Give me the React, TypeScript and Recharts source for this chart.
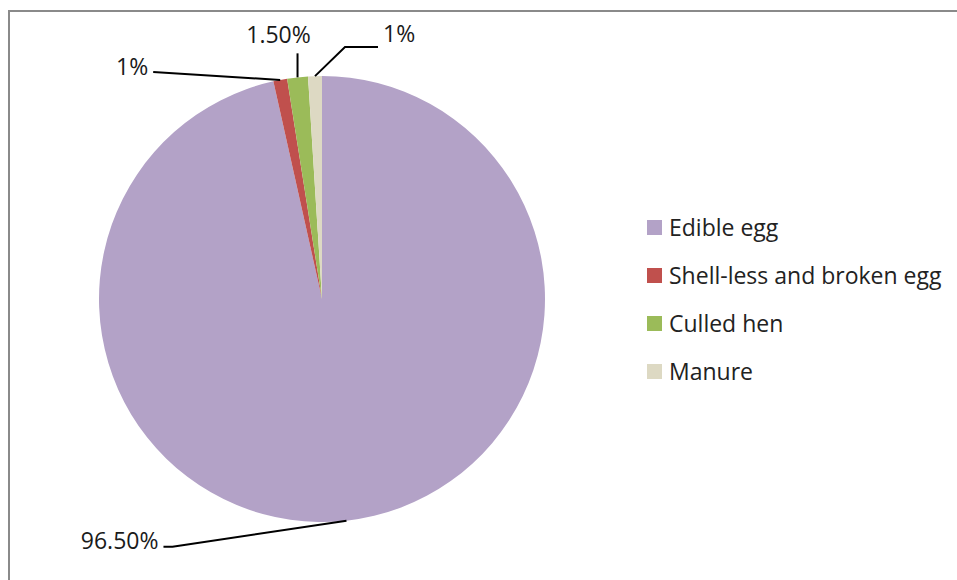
import { PieChart, Pie, Cell, Legend } from 'recharts'

// shares of layer farm output (%)
const categories = ['Edible egg', 'Shell-less and broken egg', 'Culled hen', 'Manure']
const shares = [96.5, 1, 1.5, 1]
const colors = ['#B3A2C7', '#C0504D', '#9BBB59', '#DDD9C3']

const data = categories.map((name, i) => ({ name, value: shares[i] }))

// leader line / text placement, relative to the slice's outer arc midpoint
const labelLayout = [
  { pts: [[-174, 26], [-183, 26]], text: [-188, 19], anchor: 'end' },
  { pts: [[-127, -8]], text: [-132, -14], anchor: 'end' },
  { pts: [[0, -24]], text: [-19, -43], anchor: 'middle' },
  { pts: [[30, -29], [63, -29]], text: [68, -43], anchor: 'start' },
]

const FONT = '"Open Sans", sans-serif'
const RADIAN = Math.PI / 180

function formatPct(v: number) {
  return Number.isInteger(v) ? `${v}%` : `${v.toFixed(2)}%`
}

function renderLabel(props: any) {
  const { cx, cy, midAngle, outerRadius, index, value } = props
  const x0 = cx + outerRadius * Math.cos(-midAngle * RADIAN)
  const y0 = cy + outerRadius * Math.sin(-midAngle * RADIAN)
  const lay = labelLayout[index]
  const d =
    `M${x0},${y0} ` + lay.pts.map(([dx, dy]) => `L${x0 + dx},${y0 + dy}`).join(' ')
  return (
    <g key={`lbl-${index}`}>
      <path d={d} stroke="#000" strokeWidth={2} fill="none" />
      <text
        x={x0 + lay.text[0]}
        y={y0 + lay.text[1]}
        textAnchor={lay.anchor as any}
        dominantBaseline="central"
        fill="#1a1a1a"
        fontSize={23}
        fontFamily={FONT}
      >
        {formatPct(value)}
      </text>
    </g>
  )
}

function renderLegend() {
  return (
    <div style={{ fontFamily: FONT, fontSize: 23, color: '#222' }}>
      {categories.map((c, i) => (
        <div key={c} style={{ display: 'flex', alignItems: 'center', height: 48 }}>
          <span
            style={{
              width: 15,
              height: 15,
              background: colors[i],
              display: 'inline-block',
              marginRight: 7,
            }}
          />
          <span>{c}</span>
        </div>
      ))}
    </div>
  )
}

export default function App() {
  return (
    <div
      style={{
        position: 'absolute',
        left: 0,
        top: 0,
        width: 957,
        height: 580,
        overflow: 'hidden',
        background: '#fff',
      }}
    >
      <div
        style={{
          position: 'absolute',
          left: 8,
          top: 10,
          width: 1000,
          height: 640,
          border: '2px solid #8a8a8a',
        }}
      />
      <div style={{ position: 'absolute', left: 0, top: 0 }}>
        <PieChart width={957} height={580} margin={{ top: 0, right: 0, bottom: 0, left: 0 }}>
          <Pie
            data={data}
            dataKey="value"
            nameKey="name"
            cx={322}
            cy={299}
            outerRadius={223}
            startAngle={90}
            endAngle={-270}
            stroke="none"
            label={renderLabel}
            labelLine={false}
            isAnimationActive={false}
          >
            {data.map((d, i) => (
              <Cell key={d.name} fill={colors[i]} />
            ))}
          </Pie>
          <Legend
            content={renderLegend}
            wrapperStyle={{ left: 647, top: 203, width: 310 }}
          />
        </PieChart>
      </div>
    </div>
  )
}
